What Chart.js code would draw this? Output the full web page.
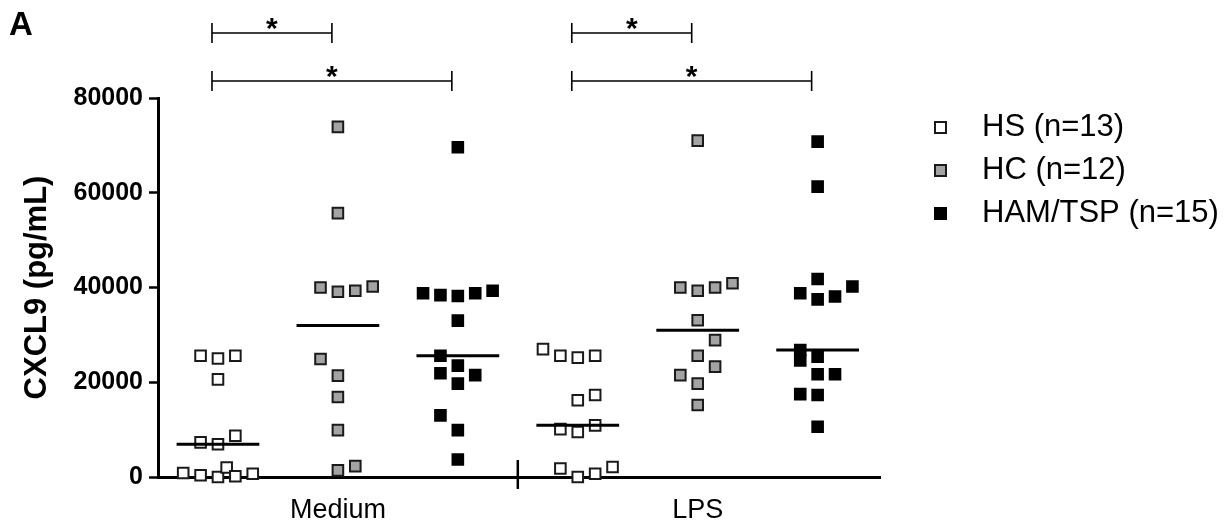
<!DOCTYPE html>
<html>
<head>
<meta charset="utf-8">
<script src="https://cdn.jsdelivr.net/npm/chart.js@4.4.1/dist/chart.umd.min.js"></script>
<style>
    html, body { margin: 0; padding: 0; background: #fff; }
    #wrap { width: 1228px; height: 530px; }
</style>
</head>
<body>
<div id="wrap"><canvas id="cxcl9Chart" width="1228" height="530"></canvas></div>
<script>
// conditions on the x axis, groups in the legend
var conditions = ['Medium', 'LPS'];
var groupNames = ['HS (n=13)', 'HC (n=12)', 'HAM/TSP (n=15)'];
var yTicks = [0, 20000, 40000, 60000, 80000];

// CXCL9 (pg/mL) per subject; *Col = column of the dot in the scatter
var hsMedium = [25600, 25000, 25600, 20600, 7300, 6900, 8700, 850, 360, 0, 2000, 150, 700];
var hsMediumCol = [-1, 0, 1, 0, -1, 0, 1, -2, -1, 0, 0.5, 1, 2];
var hcMedium = [73900, 55700, 40000, 39100, 39300, 40200, 24900, 21400, 16900, 9900, 1400, 2300];
var hcMediumCol = [0, 0, -1, 0, 1, 2, -1, 0, 0, 0, 0, 1];
var hamMedium = [69600, 38800, 38400, 38200, 38800, 39300, 33000, 25600, 23500, 21900, 21500, 19700, 13000, 9900, 3700];
var hamMediumCol = [0, -2, -1, 0, 1, 2, 0, -1, 0, -1, 1, 0, -1, 0, 0];

var hsLps = [27000, 25600, 25200, 25600, 16200, 17300, 10100, 9500, 10900, 1800, 0, 700, 2100];
var hsLpsCol = [-2, -1, 0, 1, 0, 1, -1, 0, 1, -1, 0, 1, 2];
var hcLps = [71000, 40000, 39300, 40000, 40900, 33100, 28900, 25600, 23300, 21500, 19700, 15200];
var hcLpsCol = [0, -1, 0, 1, 2, 0, 1, 0, 1, -1, 0, 0];
var hamLps = [70800, 61300, 41800, 38800, 37500, 38100, 40200, 26800, 24600, 25400, 21700, 21700, 17500, 17300, 10600];
var hamLpsCol = [0, 0, 0, -1, 0, 1, 2, -1, -1, 0, 0, 1, -1, 0, 0];

// significance brackets: [from group, to group, level]
var comparisons = [[0, 1, 1], [0, 2, 0], [3, 4, 1], [3, 5, 0]];

var groupValues = [[hsMedium, hsLps], [hcMedium, hcLps], [hamMedium, hamLps]];
var groupCols = [[hsMediumCol, hsLpsCol], [hcMediumCol, hcLpsCol], [hamMediumCol, hamLpsCol]];
var fills = ['#ffffff', '#a3a3a3', '#000000'];
var edges = ['#1a1a1a', '#1a1a1a', '#000000'];
var jitterStep = 0.145;
var fontName = '"Liberation Sans", Arial, sans-serif';

function median(arr) {
    var s = arr.slice().sort(function(a, b) { return a - b; });
    var m = Math.floor(s.length / 2);
    return s.length % 2 ? s[m] : (s[m - 1] + s[m]) / 2;
}

var datasets = [];

// median bars first so they sit on top of the dots
for (var c = 0; c < conditions.length; c++) {
    for (var g = 0; g < groupNames.length; g++) {
        var pos = c * 3 + g;
        var med = median(groupValues[g][c]);
        datasets.push({
            label: 'median',
            data: [{x: pos - 0.345, y: med}, {x: pos + 0.345, y: med}],
            showLine: true,
            borderColor: '#000',
            borderWidth: 3,
            pointRadius: 0,
            clip: false
        });
    }
}

for (var g = 0; g < groupNames.length; g++) {
    var pts = [];
    for (var c = 0; c < conditions.length; c++) {
        var vals = groupValues[g][c], cols = groupCols[g][c];
        for (var i = 0; i < vals.length; i++) {
            pts.push({x: c * 3 + g + cols[i] * jitterStep, y: vals[i]});
        }
    }
    datasets.push({
        label: groupNames[g],
        data: pts,
        pointStyle: 'rect',
        pointRadius: 7.5,
        pointHoverRadius: 7.5,
        backgroundColor: fills[g],
        borderColor: edges[g],
        borderWidth: 2,
        clip: false
    });
}

var extrasPlugin = {
    id: 'extras',
    afterDraw: function(chart) {
        var ctx = chart.ctx, xs = chart.scales.x, area = chart.chartArea;
        ctx.save();
        ctx.strokeStyle = '#000';
        ctx.fillStyle = '#000';

        // tick that splits Medium and LPS
        var sx = xs.getPixelForValue(2.5);
        ctx.lineWidth = 2.5;
        ctx.beginPath();
        ctx.moveTo(sx, area.bottom - 17);
        ctx.lineTo(sx, area.bottom + 12);
        ctx.stroke();

        // brackets with stars
        ctx.lineWidth = 1.6;
        ctx.textAlign = 'center';
        ctx.textBaseline = 'middle';
        ctx.font = 'bold 30px ' + fontName;
        comparisons.forEach(function(cmp) {
            var x1 = xs.getPixelForValue(cmp[0] - 0.05);
            var x2 = xs.getPixelForValue(cmp[1] - 0.05);
            var y = area.top - (cmp[2] ? 65 : 17);
            ctx.beginPath();
            ctx.moveTo(x1, y - 10); ctx.lineTo(x1, y + 10);
            ctx.moveTo(x1, y); ctx.lineTo(x2, y);
            ctx.moveTo(x2, y - 10); ctx.lineTo(x2, y + 10);
            ctx.stroke();
            ctx.fillText('*', (x1 + x2) / 2, y - 3);
        });

        // panel letter
        ctx.textAlign = 'left';
        ctx.textBaseline = 'alphabetic';
        ctx.font = 'bold 33px ' + fontName;
        ctx.fillText('A', 9, 35);

        // legend
        ctx.font = '31px ' + fontName;
        ctx.textBaseline = 'middle';
        groupNames.forEach(function(name, k) {
            var ly = 127 + k * 43;
            ctx.fillStyle = fills[k];
            ctx.strokeStyle = edges[k];
            ctx.lineWidth = 2;
            ctx.fillRect(935, ly - 5, 11, 11);
            ctx.strokeRect(935, ly - 5, 11, 11);
            ctx.fillStyle = '#000';
            ctx.fillText(name, 982, ly);
        });
        ctx.restore();
    }
};

new Chart(document.getElementById('cxcl9Chart').getContext('2d'), {
    type: 'scatter',
    data: { datasets: datasets },
    options: {
        responsive: false,
        animation: false,
        devicePixelRatio: 1,
        layout: {
            padding: { top: 98, right: 348, left: 0, bottom: 0 }
        },
        plugins: {
            legend: { display: false },
            tooltip: { enabled: false }
        },
        scales: {
            x: {
                type: 'linear',
                min: -0.5,
                max: 5.52,
                afterFit: function(scale) { scale.height = 53; },
                afterBuildTicks: function(scale) {
                    scale.ticks = conditions.map(function(c, i) { return {value: i * 3 + 1}; });
                },
                ticks: {
                    color: '#000',
                    padding: 9,
                    font: { family: fontName, size: 27 },
                    callback: function(v) { return conditions[Math.round((v - 1) / 3)]; }
                },
                grid: {
                    drawOnChartArea: false,
                    drawTicks: true,
                    tickLength: 8,
                    tickColor: 'rgba(0,0,0,0)'
                },
                border: { display: true, color: '#000', width: 3 }
            },
            y: {
                min: 0,
                max: 80000,
                afterFit: function(scale) { scale.width = 158; },
                afterBuildTicks: function(scale) {
                    scale.ticks = yTicks.map(function(v) { return {value: v}; });
                },
                ticks: {
                    color: '#000',
                    padding: 6,
                    font: { family: fontName, size: 25, weight: 'bold' },
                    callback: function(v) { return String(v); }
                },
                grid: {
                    drawOnChartArea: false,
                    drawTicks: true,
                    tickLength: 9,
                    tickWidth: 2.5,
                    tickColor: '#000'
                },
                border: { display: true, color: '#000', width: 3 },
                title: {
                    display: true,
                    text: 'CXCL9 (pg/mL)',
                    color: '#000',
                    font: { family: fontName, size: 31, weight: 'bold' },
                    padding: { top: 19, bottom: 0 }
                }
            }
        }
    },
    plugins: [extrasPlugin]
});
</script>
</body>
</html>
